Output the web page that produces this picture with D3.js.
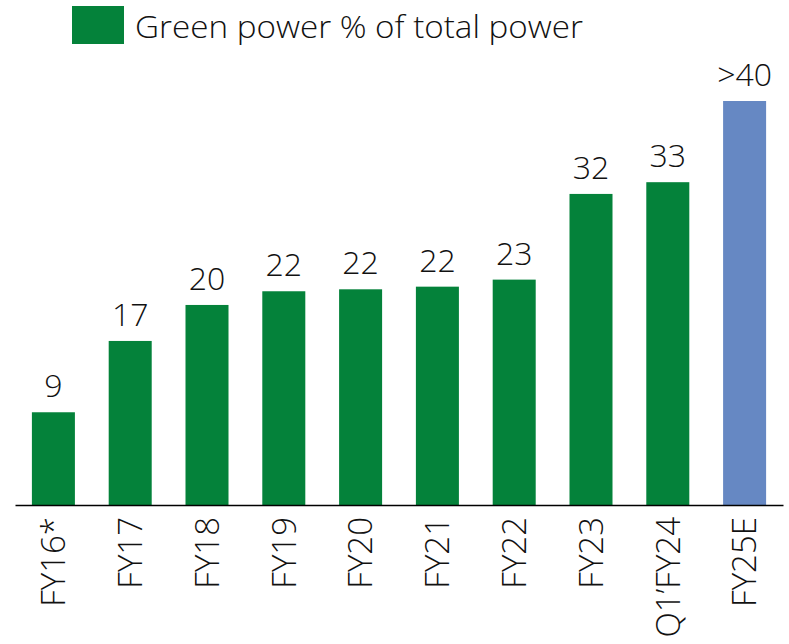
<!DOCTYPE html>
<html>
<head>
<meta charset="utf-8">
<script src="https://cdn.jsdelivr.net/npm/d3@7"></script>
<style>
  body { margin: 0; background: #fff; }
  text { font-family: "Open Sans", "Noto Sans", sans-serif; font-weight: 300; fill: #111; }
</style>
</head>
<body>
<div class="chart"></div>
<script>
// data
var categories = ["FY16*", "FY17", "FY18", "FY19", "FY20", "FY21", "FY22", "FY23", "Q1\u2019FY24", "FY25E"];
var values = [9.48, 16.77, 20.45, 21.85, 22.05, 22.32, 23.04, 31.8, 33.0, 41.3];
var valueLabels = ["9", "17", "20", "22", "22", "22", "23", "32", "33", ">40"];
var estimated = [false, false, false, false, false, false, false, false, false, true];
var legendLabel = "Green power % of total power";

var svgWidth = 789;
var svgHeight = 644;

var green = "#04823a";
var blue = "#6688c3";

var svg = d3.select(".chart").append("svg")
    .attr("width", svgWidth)
    .attr("height", svgHeight);

var baseline = 505;

var xScale = d3.scaleBand()
    .domain(categories)
    .range([15, 783])
    .paddingInner(0.44)
    .paddingOuter(0.22);

var yScale = d3.scaleLinear()
    .domain([0, 41.3])
    .range([baseline, 101]);

var data = categories.map(function(c, i) {
    return { cat: c, value: values[i], label: valueLabels[i], est: estimated[i] };
});

// bars
svg.selectAll("rect.bar")
    .data(data)
    .enter()
    .append("rect")
    .attr("class", "bar")
    .attr("x", function(d) { return xScale(d.cat); })
    .attr("y", function(d) { return yScale(d.value); })
    .attr("width", xScale.bandwidth())
    .attr("height", function(d) { return baseline - yScale(d.value); })
    .attr("fill", function(d) { return d.est ? blue : green; });

// value labels
svg.selectAll("text.val")
    .data(data)
    .enter()
    .append("text")
    .attr("class", "val")
    .attr("x", function(d) { return xScale(d.cat) + xScale.bandwidth() / 2; })
    .attr("y", function(d) { return yScale(d.value) - 15; })
    .attr("text-anchor", "middle")
    .style("font-size", "32px")
    .text(function(d) { return d.label; });

// x axis, rotated labels
var xAxis = d3.axisBottom(xScale).tickSize(0).tickPadding(0);
var axisG = svg.append("g")
    .attr("transform", "translate(0," + baseline + ")")
    .call(xAxis);

axisG.select(".domain")
    .attr("stroke", "#000")
    .attr("stroke-width", 1.5);

axisG.selectAll(".tick text")
    .attr("transform", "rotate(-90)")
    .attr("x", -12)
    .attr("y", 0)
    .attr("dy", "0.36em")
    .attr("text-anchor", "end")
    .style("font-family", "'Open Sans', 'Noto Sans', sans-serif")
    .style("font-weight", 300)
    .style("font-size", "33px")
    .attr("fill", "#111");

// legend
svg.append("rect")
    .attr("x", 72)
    .attr("y", 6)
    .attr("width", 52)
    .attr("height", 38)
    .attr("fill", green);

svg.append("text")
    .attr("x", 135)
    .attr("y", 38)
    .style("font-size", "31px")
    .attr("textLength", 448)
    .attr("lengthAdjust", "spacingAndGlyphs")
    .text(legendLabel);
</script>
</body>
</html>
